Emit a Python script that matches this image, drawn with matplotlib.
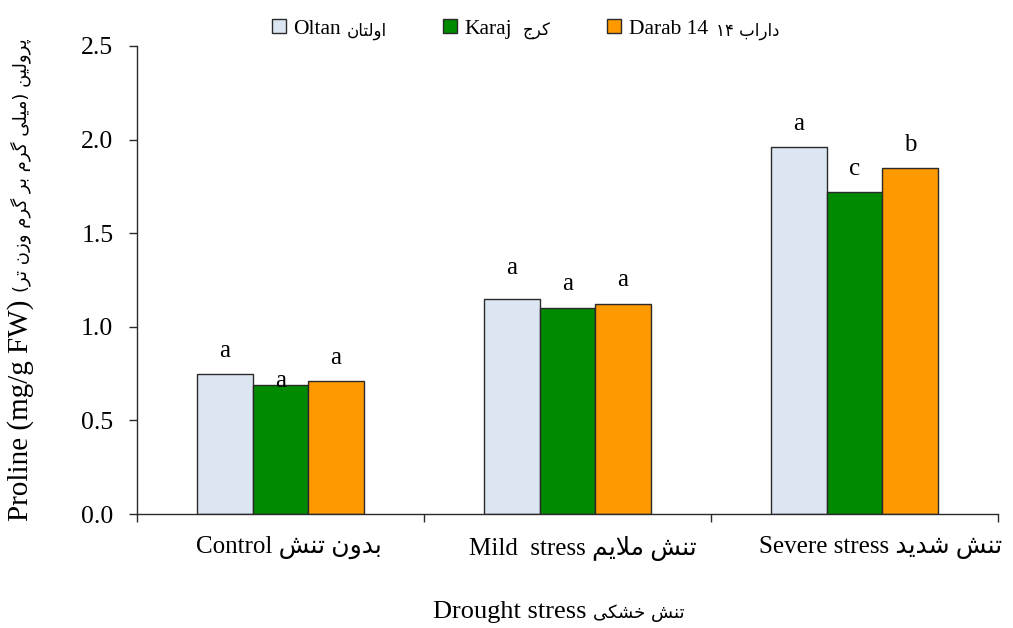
import numpy as np
import matplotlib
matplotlib.use("Agg")
import matplotlib.pyplot as plt
from matplotlib.patches import Patch
from matplotlib.transforms import ScaledTranslation

# Proline content per cultivar under three drought levels
levels = ["Control", "Mild  stress", "Severe stress"]
levels_fa = ["بدون تنش", "تنش ملایم", "تنش شدید"]
cultivars = ["Oltan", "Karaj", "Darab 14"]
cultivars_fa = ["اولتان", "کرج", "داراب ۱۴"]
oltan = [0.75, 1.15, 1.96]
karaj = [0.69, 1.10, 1.72]
darab = [0.71, 1.12, 1.85]
letters = [["a", "a", "a"], ["a", "a", "c"], ["a", "a", "b"]]

# contextual forms: isolated, final, initial, medial
FORMS = {
    "ا": (0xFE8D, 0xFE8E), "د": (0xFEA9, 0xFEAA), "ر": (0xFEAD, 0xFEAE),
    "ز": (0xFEAF, 0xFEB0), "و": (0xFEED, 0xFEEE),
    "ب": (0xFE8F, 0xFE90, 0xFE91, 0xFE92), "پ": (0xFB56, 0xFB57, 0xFB58, 0xFB59),
    "ت": (0xFE95, 0xFE96, 0xFE97, 0xFE98), "ج": (0xFE9D, 0xFE9E, 0xFE9F, 0xFEA0),
    "خ": (0xFEA5, 0xFEA6, 0xFEA7, 0xFEA8), "س": (0xFEB1, 0xFEB2, 0xFEB3, 0xFEB4),
    "ش": (0xFEB5, 0xFEB6, 0xFEB7, 0xFEB8), "ک": (0xFB8E, 0xFB8F, 0xFB90, 0xFB91),
    "گ": (0xFB92, 0xFB93, 0xFB94, 0xFB95), "ل": (0xFEDD, 0xFEDE, 0xFEDF, 0xFEE0),
    "م": (0xFEE1, 0xFEE2, 0xFEE3, 0xFEE4), "ن": (0xFEE5, 0xFEE6, 0xFEE7, 0xFEE8),
    "ی": (0xFBFC, 0xFBFD, 0xFBFE, 0xFBFF),
}


def shape(word):
    out = []
    i = 0
    prev_joins = False
    while i < len(word):
        ch = word[i]
        if ch not in FORMS:
            out.append(ch)
            prev_joins = False
            i += 1
            continue
        if ch == "ل" and i + 1 < len(word) and word[i + 1] == "ا":
            out.append(chr(0xFEFC if prev_joins else 0xFEFB))
            prev_joins = False
            i += 2
            continue
        f = FORMS[ch]
        nxt = word[i + 1] if i + 1 < len(word) else ""
        next_joins = len(f) == 4 and nxt in FORMS
        if prev_joins and next_joins:
            out.append(chr(f[3]))
        elif prev_joins:
            out.append(chr(f[1]))
        elif next_joins:
            out.append(chr(f[2]))
        else:
            out.append(chr(f[0]))
        prev_joins = next_joins
        i += 1
    return "".join(out)


def fa(text):
    # shape and lay out right-to-left for a left-to-right renderer
    words = []
    for w in text.split(" "):
        words.append(w if w.isdigit() else shape(w)[::-1])
    s = " ".join(words[::-1])
    return s.translate(str.maketrans("()", ")("))


FONT = ["Liberation Serif", "DejaVu Sans"]
plt.rcParams["font.family"] = FONT

colors = ["#dce6f2", "#008a00", "#ff9900"]
edge = "#2a2a2a"
width = 0.193

fig = plt.figure(figsize=(10.13, 6.28), dpi=100)
ax = fig.add_axes([0.1352, 0.1815, 0.8500, 0.7453])

x = np.arange(len(levels))
series = [oltan, karaj, darab]
for k, vals in enumerate(series):
    ax.bar(x + (k - 1) * width, vals, width, color=colors[k],
           edgecolor=edge, linewidth=1.0, zorder=2)

# significance letters (baseline offset above each bar)
nudge = [[0.09, 0.13, 0.09], [-0.01, 0.095, 0.09], [0.09, 0.10, 0.09]]
for k, vals in enumerate(series):
    for j, v in enumerate(vals):
        ax.text(x[j] + (k - 1) * width, v + nudge[k][j], letters[k][j],
                ha="center", va="baseline", fontsize=18, family="Liberation Serif")

ax.set_xlim(-0.5, 2.5)
ax.set_ylim(0, 2.5)
ax.set_yticks(np.arange(0, 2.51, 0.5))
ax.set_yticklabels([f"{v:.1f}" for v in np.arange(0, 2.51, 0.5)],
                   fontsize=18.5, family="Liberation Serif")
ax.set_xticks(x)
ax.set_xticklabels([f"{e} {fa(p)}" for e, p in zip(levels, levels_fa)], fontsize=18)
ax.set_xticks([-0.5, 0.5, 1.5, 2.5], minor=True)
ax.tick_params(axis="x", which="major", length=0, pad=16)
ax.tick_params(axis="x", which="minor", length=6, width=1, color=edge, direction="out")
ax.tick_params(axis="y", length=6, width=1, color=edge, direction="out", pad=11)

# category labels sit a little right of the group centres
shift_px = [8, 15, 26]
for lbl, dx in zip(ax.get_xticklabels(), shift_px):
    lbl.set_transform(lbl.get_transform() + ScaledTranslation(dx / fig.dpi, 0, fig.dpi_scale_trans))

for s in ["top", "right"]:
    ax.spines[s].set_visible(False)
for s in ["left", "bottom"]:
    ax.spines[s].set_color(edge)
    ax.spines[s].set_linewidth(1.0)

# axis titles: English part in serif, Persian part smaller next to it
ax.text(-0.135, 0.474, "Proline (mg/g FW) ", transform=ax.transAxes, rotation=90,
        rotation_mode="anchor", ha="right", va="center", fontsize=21,
        family="Liberation Serif")
ax.text(-0.135, 0.474, fa("پرولین (میلی گرم بر گرم وزن تر)"), transform=ax.transAxes,
        rotation=90, rotation_mode="anchor", ha="left", va="center", fontsize=13,
        family="DejaVu Sans")
ax.text(0.53, -0.222, "Drought stress ", transform=ax.transAxes, ha="right",
        va="baseline", fontsize=19, family="Liberation Serif")
ax.text(0.53, -0.222, fa("تنش خشکی"), transform=ax.transAxes, ha="left",
        va="baseline", fontsize=13, family="DejaVu Sans")

# one legend entry per cultivar along the top, Persian name after each
legend_x = [272, 443, 607]
legend_gap = [6, 11, 8]
legend_y = 0.954
entries = []
for c, name, lx in zip(colors, cultivars, legend_x):
    h = Patch(facecolor=c, edgecolor=edge, linewidth=1.0)
    leg = fig.legend([h], [name], loc="center left", bbox_to_anchor=(lx / 1013, legend_y),
                     frameon=False, fontsize=15.5, handlelength=0.65, handleheight=0.65,
                     handletextpad=0.35, borderaxespad=0, borderpad=0)
    entries.append(leg)

fig.canvas.draw()
renderer = fig.canvas.get_renderer()
fig_w = fig.bbox.width
for leg, name_fa, gap in zip(entries, cultivars_fa, legend_gap):
    bb = leg.get_window_extent(renderer)
    fig.text((bb.x1 + gap) / fig_w, legend_y - 0.004, fa(name_fa),
             ha="left", va="center", fontsize=12, family="DejaVu Sans")

fig.savefig("out.png", dpi=100)
